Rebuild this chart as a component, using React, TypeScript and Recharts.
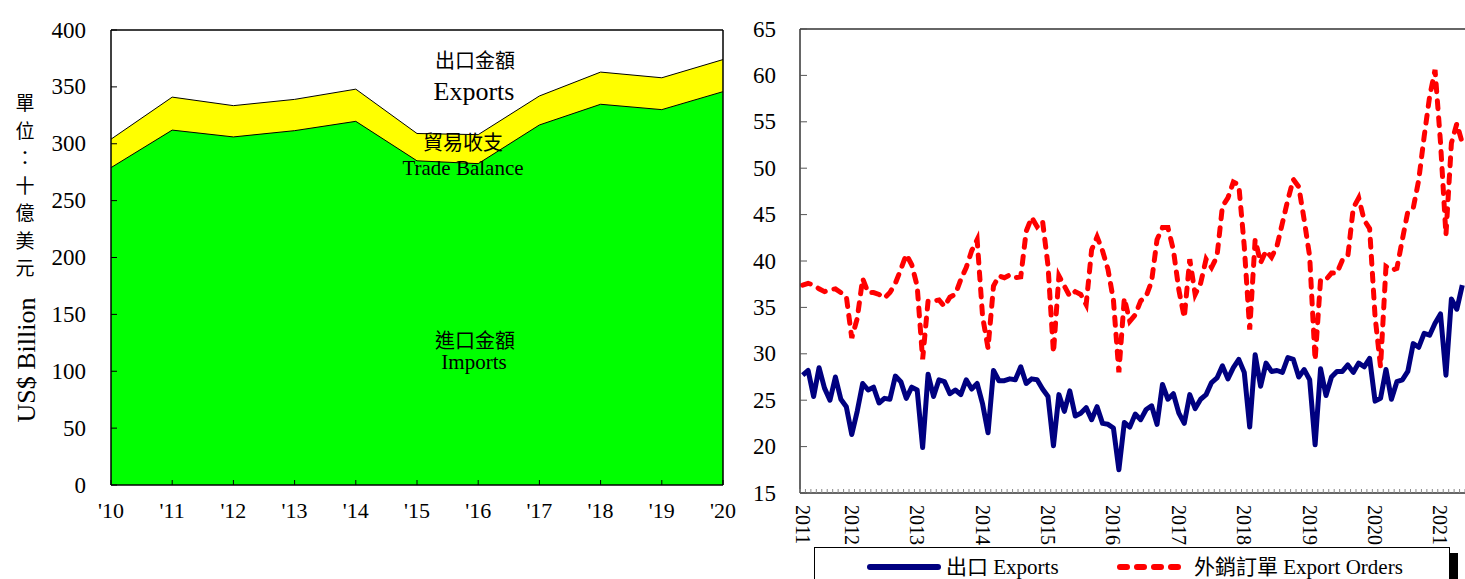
import React from 'react';
import { AreaChart, Area, LineChart, Line, XAxis, YAxis, ReferenceLine } from 'recharts';

const FONT = "'Liberation Serif', 'Noto Sans CJK TC', serif";

// annual trade, US$ billion
const years = ["'10", "'11", "'12", "'13", "'14", "'15", "'16", "'17", "'18", "'19", "'20"];
const exportsAnnual = [304, 341, 333.5, 339, 348, 309, 308, 342, 363, 358, 374];
const importsAnnual = [279, 312, 306, 311.5, 319.7, 285, 282.5, 316.5, 334.7, 330, 345.8];
const annualTicks = [0, 50, 100, 150, 200, 250, 300, 350, 400];

// monthly, Apr 2011 - May 2021, US$ billion
const START_YEAR = 2011;
const START_MONTH = 4;
const monthlyExports = [
  27.7, 28.2, 25.4, 28.5, 26.3, 25.0, 27.5, 25.1, 24.3,
  21.3, 23.8, 26.8, 26.1, 26.4, 24.7, 25.2, 25.1, 27.6, 27.0, 25.2, 26.4,
  26.1, 19.9, 27.8, 25.4, 27.2, 27.0, 25.7, 26.1, 25.6, 27.2, 26.2, 26.8,
  24.6, 21.5, 28.2, 27.1, 27.1, 27.3, 27.2, 28.6, 26.8, 27.3, 27.2, 26.2,
  25.4, 20.1, 25.6, 23.8, 26.0, 23.3, 23.6, 24.2, 22.9, 24.3, 22.5, 22.4,
  22.0, 17.5, 22.6, 22.1, 23.5, 22.9, 24.0, 24.4, 22.4, 26.7, 25.1, 25.7,
  23.6, 22.5, 25.6, 24.1, 25.1, 25.6, 26.9, 27.4, 28.7, 27.3, 28.5, 29.4,
  28.0, 22.1, 29.9, 26.5, 29.0, 28.1, 28.2, 28.0, 29.6, 29.4, 27.5, 28.3,
  27.2, 20.2, 28.4, 25.5, 27.5, 28.1, 28.1, 28.8, 28.0, 29.0, 28.6, 29.5,
  24.9, 25.2, 28.3, 25.1, 27.0, 27.2, 28.1, 31.1, 30.7, 32.2, 32.0, 33.3,
  34.3, 27.7, 35.9, 34.8, 37.4,
];
const exportOrders = [
  37.4, 37.6, 37.4, 37.0, 36.7, 36.9, 37.0, 36.6, 36.2,
  31.7, 33.8, 38.1, 36.6, 36.6, 36.4, 36.0, 36.6, 37.6, 39.1, 40.7, 39.6,
  37.3, 29.4, 35.7, 35.7, 35.8, 35.1, 36.1, 36.4, 38.0, 39.3, 41.1, 42.3,
  34.0, 30.6, 37.3, 38.4, 38.2, 38.5, 38.2, 38.3, 43.2, 44.7, 43.7, 44.3,
  39.5, 30.1, 38.4, 37.3, 36.2, 36.7, 36.4, 35.3, 41.2, 42.6, 41.1, 39.1,
  35.8, 28.0, 36.0, 33.5, 34.2, 35.7, 36.2, 37.8, 42.3, 43.6, 43.6, 41.2,
  36.9, 33.9, 40.2, 36.4, 37.6, 40.2, 39.3, 40.5, 45.9, 46.8, 48.5, 48.2,
  41.6, 32.6, 42.3, 39.8, 41.1, 40.4, 41.6, 44.1, 46.6, 48.8, 48.0, 44.4,
  40.5, 29.3, 38.0, 38.0, 38.7, 38.7, 40.1, 40.5, 45.7, 46.8, 44.4, 43.5,
  34.0, 28.6, 39.4, 39.0, 39.2, 42.3, 45.3, 45.7, 48.7, 53.4, 57.7, 60.6,
  52.8, 42.8, 52.7, 54.8, 52.7,
];
const yearTickMonths = ['2011-04', '2012-01', '2013-01', '2014-01', '2015-01', '2016-01', '2017-01', '2018-01', '2019-01', '2020-01', '2021-01'];
const yearTickLabels = ['2011', '2012', '2013', '2014', '2015', '2016', '2017', '2018', '2019', '2020', '2021'];
const monthlyTicks = [15, 20, 25, 30, 35, 40, 45, 50, 55, 60, 65];

const months = monthlyExports.map((_, i) => {
  const m = START_MONTH - 1 + i;
  return `${START_YEAR + Math.floor(m / 12)}-${String((m % 12) + 1).padStart(2, '0')}`;
});

const annualData = years.map((year, i) => ({ year, exports: exportsAnnual[i], imports: importsAnnual[i] }));
const monthlyData = months.map((month, i) => ({ month, exports: monthlyExports[i], orders: exportOrders[i] }));

const RIGHT_PLOT_W = 665;
const PAD = 2.7;
const HALF_BAND = (RIGHT_PLOT_W - 2 * PAD) / (months.length - 1) / 2;

const AnnualXTick = ({ x, y, payload }: any) => (
  <g>
    <line x1={x} x2={x} y1={y} y2={y - 5} stroke="#000" />
    <text x={x} y={y + 25} textAnchor="middle" dominantBaseline="central" fontSize={22} fontFamily={FONT} fill="#000">
      {payload.value}
    </text>
  </g>
);

const AnnualYTick = ({ x, y, payload }: any) => (
  <g>
    <line x1={x} x2={x + 6} y1={y} y2={y} stroke="#000" />
    <text x={x - 25} y={y} textAnchor="end" dominantBaseline="central" fontSize={23} fontFamily={FONT} fill="#000">
      {payload.value}
    </text>
  </g>
);

const MonthXTick = ({ x, y, payload, index }: any) => {
  const k = yearTickMonths.indexOf(payload.value);
  return (
    <g>
      <line x1={x - HALF_BAND} x2={x - HALF_BAND} y1={y} y2={y - 4} stroke="#888" />
      {index === months.length - 1 && <line x1={x + HALF_BAND} x2={x + HALF_BAND} y1={y} y2={y - 4} stroke="#888" />}
      {k >= 0 && (
        <text
          transform={`translate(${x},${y + 12}) rotate(90)`}
          textAnchor="start"
          dominantBaseline="central"
          fontSize={20}
          fontFamily={FONT}
          fill="#000"
        >
          {yearTickLabels[k]}
        </text>
      )}
    </g>
  );
};

const MonthYTick = ({ x, y, payload }: any) => (
  <g>
    <line x1={x} x2={x + 7} y1={y} y2={y} stroke="#555" />
    <text x={x - 24} y={y} textAnchor="end" dominantBaseline="central" fontSize={23} fontFamily={FONT} fill="#000">
      {payload.value}
    </text>
  </g>
);

const Note = ({ x, y, size, children }: any) => (
  <div
    style={{
      position: 'absolute',
      left: x,
      top: y,
      transform: 'translate(-50%, -50%)',
      fontSize: size,
      fontFamily: FONT,
      lineHeight: 1,
      whiteSpace: 'nowrap',
      color: '#000',
    }}
  >
    {children}
  </div>
);

const unitChars = ['單', '位', '：', '十', '億', '美', '元'];

export default function App() {
  return (
    <div style={{ position: 'fixed', left: 0, top: 0, width: 1465, height: 579, overflow: 'hidden', background: '#fff', fontFamily: FONT }}>
      {/* annual chart */}
      <div style={{ position: 'absolute', left: 0, top: 0 }}>
        <AreaChart width={740} height={545} data={annualData} margin={{ top: 30, right: 17, left: 0, bottom: 0 }}>
          <XAxis
            dataKey="year"
            height={60}
            interval={0}
            tickSize={0}
            tickMargin={0}
            tickLine={false}
            axisLine={{ stroke: '#000', strokeWidth: 1.5 }}
            tick={(p: any) => <AnnualXTick {...p} />}
          />
          <YAxis
            domain={[0, 400]}
            ticks={annualTicks}
            width={111}
            interval={0}
            tickSize={0}
            tickMargin={0}
            tickLine={false}
            axisLine={{ stroke: '#000', strokeWidth: 1.5 }}
            tick={(p: any) => <AnnualYTick {...p} />}
          />
          <Area dataKey="exports" type="linear" stroke="#000" strokeWidth={1} fill="#FFFF00" fillOpacity={1} isAnimationActive={false} />
          <Area dataKey="imports" type="linear" stroke="#000" strokeWidth={1} fill="#00FF00" fillOpacity={1} isAnimationActive={false} />
          <ReferenceLine y={400} stroke="#000" strokeWidth={1.5} />
          <ReferenceLine x="'20" stroke="#000" strokeWidth={1.5} />
        </AreaChart>
      </div>

      <Note x={475} y={61} size={20}>出口金額</Note>
      <Note x={474} y={92} size={26}>Exports</Note>
      <Note x={463} y={143} size={20}>貿易收支</Note>
      <Note x={463} y={168} size={21}>Trade Balance</Note>
      <Note x={475} y={341} size={20}>進口金額</Note>
      <Note x={474} y={362} size={21}>Imports</Note>

      <div
        style={{
          position: 'absolute',
          left: 27,
          top: 360,
          transform: 'translate(-50%, -50%) rotate(-90deg)',
          fontSize: 26,
          fontFamily: FONT,
          whiteSpace: 'nowrap',
          lineHeight: 1,
        }}
      >
        US$ Billion
      </div>
      <div style={{ position: 'absolute', left: 11, top: 88, width: 28 }}>
        {unitChars.map((c) => (
          <div key={c} style={{ height: 27.5, lineHeight: '27.5px', textAlign: 'center', fontSize: 19, fontFamily: "'Noto Sans CJK TC', sans-serif" }}>
            {c}
          </div>
        ))}
      </div>

      {/* monthly chart */}
      <div style={{ position: 'absolute', left: 740, top: 0 }}>
        <LineChart width={725} height={560} data={monthlyData} margin={{ top: 29, right: 0, left: 0, bottom: 0 }}>
          <XAxis
            dataKey="month"
            height={67}
            interval={0}
            padding={{ left: PAD, right: PAD }}
            tickSize={0}
            tickMargin={0}
            tickLine={false}
            axisLine={{ stroke: '#333', strokeWidth: 1.5 }}
            tick={(p: any) => <MonthXTick {...p} />}
          />
          <YAxis
            domain={[15, 65]}
            ticks={monthlyTicks}
            width={60}
            interval={0}
            tickSize={0}
            tickMargin={0}
            tickLine={false}
            axisLine={{ stroke: '#333', strokeWidth: 1.5 }}
            tick={(p: any) => <MonthYTick {...p} />}
          />
          <ReferenceLine y={65} stroke="#333" strokeWidth={1.5} />
          <Line
            dataKey="orders"
            type="linear"
            stroke="#FF0000"
            strokeWidth={5}
            strokeDasharray="8 9"
            strokeLinecap="round"
            dot={false}
            isAnimationActive={false}
          />
          <Line
            dataKey="exports"
            type="linear"
            stroke="#000080"
            strokeWidth={5}
            strokeLinejoin="round"
            dot={false}
            isAnimationActive={false}
          />
        </LineChart>
      </div>

      {/* legend */}
      <div
        style={{
          position: 'absolute',
          left: 814,
          top: 547,
          width: 634,
          height: 60,
          border: '1px solid #000',
          background: '#fff',
          boxShadow: '8px 6px 0 #000',
          fontFamily: FONT,
          fontSize: 21,
        }}
      >
        <svg style={{ position: 'absolute', left: 0, top: 0 }} width={634} height={40}>
          <line x1={55} x2={123} y1={19} y2={19} stroke="#000080" strokeWidth={6} strokeLinecap="round" />
          <line x1={305} x2={373} y1={19} y2={19} stroke="#FF0000" strokeWidth={6} strokeDasharray="7 10" strokeLinecap="round" />
        </svg>
        <div style={{ position: 'absolute', left: 131, top: 19, transform: 'translateY(-50%)', lineHeight: 1, whiteSpace: 'nowrap' }}>
          出口 Exports
        </div>
        <div style={{ position: 'absolute', left: 379, top: 19, transform: 'translateY(-50%)', lineHeight: 1, whiteSpace: 'nowrap' }}>
          外銷訂單 Export Orders
        </div>
      </div>
    </div>
  );
}
